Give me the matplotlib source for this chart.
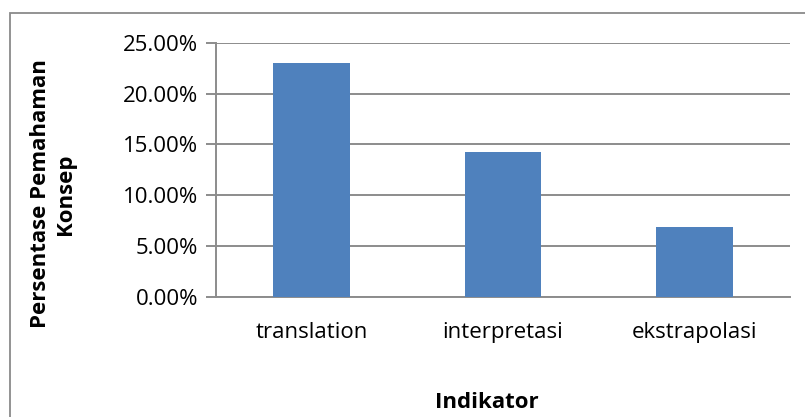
import matplotlib
matplotlib.use("Agg")
import matplotlib.pyplot as plt
from matplotlib.patches import Rectangle
from matplotlib.ticker import FuncFormatter

# Concept-understanding percentage per indicator
categories = ["translation", "interpretasi", "ekstrapolasi"]
values = [23.0, 14.25, 6.9]
y_ticks = [0, 5, 10, 15, 20, 25]

plt.rcParams["font.family"] = ["Open Sans", "DejaVu Sans"]

W, H = 805, 417
fig = plt.figure(figsize=(W / 100, H / 100), dpi=100)
fig.patch.set_facecolor("white")

# outer chart frame (runs off the right and bottom edges)
fig.add_artist(Rectangle((10 / W, -0.2), 1.5, (H - 13) / H + 0.2,
                         transform=fig.transFigure, fill=False,
                         edgecolor="#8a8a8a", linewidth=1.3))

ax = fig.add_axes([216 / W, 120.3 / H, (790 - 216) / W, (374.3 - 120.3) / H])

grid_color = "#8c8c8c"
x = range(len(categories))
ax.bar(x, values, width=0.40, color="#4F81BD", zorder=3)

ax.set_xlim(-0.5, len(categories) - 0.5)
ax.set_ylim(0, 25)
ax.set_yticks(y_ticks)
ax.yaxis.set_major_formatter(FuncFormatter(lambda v, _: f"{v:.2f}%"))
ax.yaxis.grid(True, color=grid_color, linewidth=1.4, zorder=0)
ax.set_axisbelow(True)

ax.set_xticks(list(x))
ax.set_xticklabels(categories)

for side in ("top", "right"):
    ax.spines[side].set_visible(False)
for side in ("left", "bottom"):
    ax.spines[side].set_color(grid_color)
    ax.spines[side].set_linewidth(1.4)

ax.tick_params(axis="y", direction="out", length=7, width=1.4,
               color=grid_color, pad=6, labelsize=16, labelcolor="black")
ax.tick_params(axis="x", length=0, pad=18, labelsize=16, labelcolor="black")

fig.text(487 / W, (H - 403) / H, "Indikator", ha="center", va="center",
         fontsize=16, fontweight="bold")
fig.text(53 / W, (H - 194) / H, "Persentase Pemahaman\nKonsep",
         ha="center", va="center", rotation=90, fontsize=16,
         fontweight="bold", linespacing=1.25, multialignment="center")

fig.savefig("out.png", dpi=100)
